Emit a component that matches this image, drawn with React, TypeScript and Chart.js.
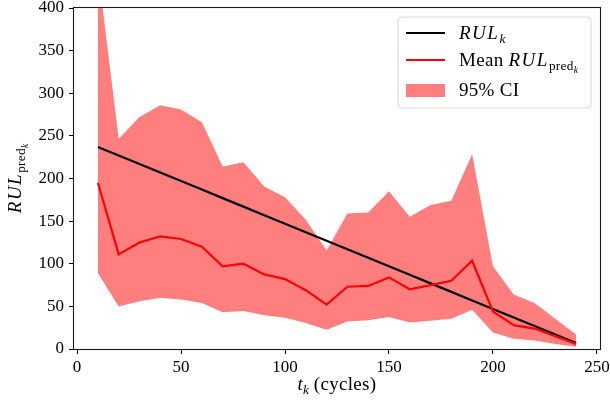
import React, { useEffect, useRef } from "react";
import { Chart, registerables } from "chart.js";

Chart.register(...registerables);

const cycles = [10, 20, 30, 40, 50, 60, 70, 80, 90, 100, 110, 120, 130, 140, 150, 160, 170, 180, 190, 200, 210, 220, 230, 240];
const trueRUL = [237, 227, 217, 207, 197, 187, 177, 167, 157, 147, 137, 127, 117, 107, 97, 87, 77, 67, 57, 47, 37, 27, 17, 7];
const meanRUL = [195, 111, 125, 132, 129, 120, 97, 100, 87.5, 82, 69, 52, 73, 74, 84, 70, 75, 80, 103.5, 44, 28, 24, 15, 6];
const upperCI = [445, 246.5, 272, 286, 281, 266, 214, 219, 190.5, 178, 151.5, 115.5, 159, 160, 185, 155, 169, 174, 228.5, 97, 64, 54, 35.5, 17];
const lowerCI = [89, 50, 56, 60, 58, 54, 43, 44.5, 39.5, 36.7, 30.5, 22.6, 32.4, 33.6, 37.5, 31, 33, 35.5, 46, 19.5, 12, 10, 6, 2.5];
const xTicks = [0, 50, 100, 150, 200, 250];
const yTicks = [0, 50, 100, 150, 200, 250, 300, 350, 400];

const FONT = '"Liberation Serif", "Times New Roman", serif';

type Seg = { t: string; it?: boolean; lv?: number; ls?: number };

function segFont(s: Seg, size: number) {
  const sc = s.lv === 2 ? 0.5 : s.lv === 1 ? 0.7 : 1;
  return `${s.it ? "italic " : ""}${(size * sc).toFixed(2)}px ${FONT}`;
}
function segShift(s: Seg, size: number) {
  if (s.lv === 2) return size * 0.36;
  if (s.lv === 1) return size * 0.2;
  return 0;
}
function drawRich(ctx: CanvasRenderingContext2D, segs: Seg[], x: number, y: number, size: number, align: "left" | "center") {
  ctx.save();
  ctx.textBaseline = "alphabetic";
  ctx.textAlign = "left";
  let total = 0;
  const widths = segs.map((s) => {
    ctx.font = segFont(s, size);
    (ctx as any).letterSpacing = `${s.ls || 0}px`;
    const w = ctx.measureText(s.t).width;
    total += w;
    return w;
  });
  let cx = align === "center" ? x - total / 2 : x;
  segs.forEach((s, i) => {
    ctx.font = segFont(s, size);
    (ctx as any).letterSpacing = `${s.ls || 0}px`;
    ctx.fillText(s.t, cx, y + segShift(s, size));
    cx += widths[i];
  });
  (ctx as any).letterSpacing = "0px";
  ctx.restore();
}

const decorPlugin = {
  id: "decor",
  afterDraw(chart: any) {
    const ctx: CanvasRenderingContext2D = chart.ctx;
    const a = chart.chartArea;
    ctx.save();
    ctx.strokeStyle = "#1a1a1a";
    ctx.lineWidth = 1.1;
    ctx.strokeRect(a.left - 0.5, a.top - 0.5, a.right - a.left + 1, a.bottom - a.top + 1);
    ctx.restore();

    ctx.fillStyle = "#000";
    drawRich(ctx, [{ t: "t", it: true }, { t: "k", it: true, lv: 1 }, { t: " (cycles)", ls: 0.3 }], (a.left + a.right) / 2, 390, 19, "center");
    ctx.save();
    ctx.translate(21, (a.top + a.bottom) / 2);
    ctx.rotate(-Math.PI / 2);
    ctx.fillStyle = "#000";
    drawRich(ctx, [{ t: "RUL", it: true, ls: 1.5 }, { t: "pred", lv: 1, ls: 0.3 }, { t: "k", it: true, lv: 2 }], 0, 0, 19, "center");
    ctx.restore();

    const bx = 398, by = 17, bw = 193, bh = 91, r = 4;
    ctx.save();
    ctx.beginPath();
    ctx.moveTo(bx + r, by);
    ctx.lineTo(bx + bw - r, by);
    ctx.quadraticCurveTo(bx + bw, by, bx + bw, by + r);
    ctx.lineTo(bx + bw, by + bh - r);
    ctx.quadraticCurveTo(bx + bw, by + bh, bx + bw - r, by + bh);
    ctx.lineTo(bx + r, by + bh);
    ctx.quadraticCurveTo(bx, by + bh, bx, by + bh - r);
    ctx.lineTo(bx, by + r);
    ctx.quadraticCurveTo(bx, by, bx + r, by);
    ctx.closePath();
    ctx.fillStyle = "rgba(255,255,255,0.8)";
    ctx.fill();
    ctx.strokeStyle = "#d6d6d6";
    ctx.lineWidth = 1;
    ctx.stroke();

    ctx.lineWidth = 2;
    ctx.strokeStyle = "#000";
    ctx.beginPath();
    ctx.moveTo(406, 33);
    ctx.lineTo(445, 33);
    ctx.stroke();
    ctx.strokeStyle = "#ff0000";
    ctx.beginPath();
    ctx.moveTo(406, 60);
    ctx.lineTo(445, 60);
    ctx.stroke();
    ctx.fillStyle = "rgba(255,0,0,0.5)";
    ctx.fillRect(406, 84, 39, 13);
    ctx.restore();

    ctx.fillStyle = "#000";
    drawRich(ctx, [{ t: "RUL", it: true, ls: 1.5 }, { t: "k", it: true, lv: 1 }], 459, 39, 19, "left");
    drawRich(ctx, [{ t: "Mean ", ls: 0.3 }, { t: "RUL", it: true, ls: 1.5 }, { t: "pred", lv: 1, ls: 0.3 }, { t: "k", it: true, lv: 2 }], 459, 66, 19, "left");
    drawRich(ctx, [{ t: "95% CI", ls: 0.3 }], 459, 96, 19, "left");
  },
};

export default function App() {
  const ref = useRef<HTMLCanvasElement | null>(null);
  useEffect(() => {
    document.body.style.margin = "0";
    const canvas = ref.current!;
    const pts = (vals: number[]) => cycles.map((x, i) => ({ x, y: vals[i] }));
    const chart = new Chart(canvas, {
      type: "line",
      data: {
        datasets: [
          { label: "RUL_k", data: pts(trueRUL), borderColor: "#000", borderWidth: 2.2, pointRadius: 0, tension: 0, fill: false, order: 1 },
          { label: "Mean RUL_pred_k", data: pts(meanRUL), borderColor: "#ff0000", borderWidth: 2.2, pointRadius: 0, tension: 0, fill: false, order: 0 },
          { label: "95% CI", data: pts(upperCI), borderColor: "rgba(0,0,0,0)", borderWidth: 0, pointRadius: 0, tension: 0, backgroundColor: "rgba(255,0,0,0.5)", fill: "+1", order: 2 },
          { label: "lower", data: pts(lowerCI), borderColor: "rgba(0,0,0,0)", borderWidth: 0, pointRadius: 0, tension: 0, fill: false, order: 3 },
        ],
      },
      options: {
        responsive: false,
        animation: false,
        layout: { padding: { left: 0, right: 10, top: 8, bottom: 0 } },
        plugins: { legend: { display: false }, tooltip: { enabled: false }, title: { display: false } },
        scales: {
          x: {
            type: "linear",
            min: -1.5,
            max: 251.5,
            afterBuildTicks: (s: any) => { s.ticks = xTicks.map((v) => ({ value: v })); },
            afterFit: (s: any) => { s.height = 54; s.paddingLeft = 0; s.paddingRight = 0; },
            grid: { display: true, drawOnChartArea: false, drawTicks: true, tickLength: 5, color: "#000" },
            border: { display: false },
            ticks: { color: "#000", padding: 3, maxRotation: 0, font: { family: FONT, size: 17 } },
          },
          y: {
            type: "linear",
            min: 0,
            max: 400,
            afterBuildTicks: (s: any) => { s.ticks = yTicks.map((v) => ({ value: v })); },
            afterFit: (s: any) => { s.width = 74; s.paddingTop = 0; s.paddingBottom = 0; },
            grid: { display: true, drawOnChartArea: false, drawTicks: true, tickLength: 5, color: "#000" },
            border: { display: false },
            ticks: { color: "#000", padding: 5, font: { family: FONT, size: 17 } },
          },
        },
      },
      plugins: [decorPlugin],
    } as any);
    return () => chart.destroy();
  }, []);
  return (
    <div style={{ width: 610, height: 403, position: "relative" }}>
      <canvas ref={ref} width={610} height={403} />
    </div>
  );
}
